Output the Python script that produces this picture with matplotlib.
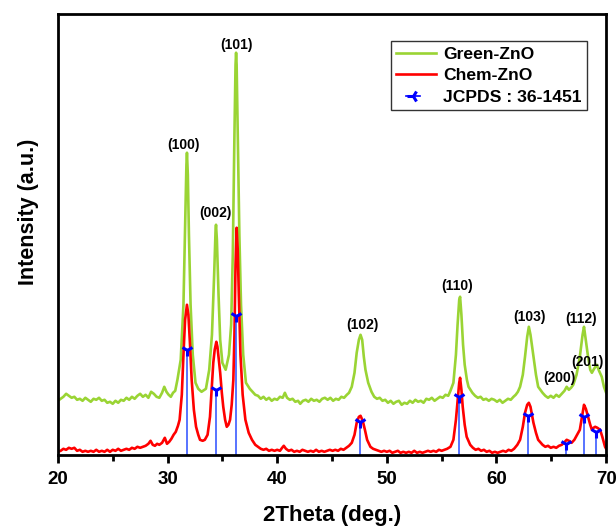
import matplotlib.pyplot as plt
from matplotlib.lines import Line2D
from matplotlib.legend_handler import HandlerLine2D

plt.rcParams["font.family"] = ["Liberation Sans", "DejaVu Sans"]
plt.rcParams["font.weight"] = "bold"

# ---------------------------------------------------------------------------
# Data (intensity in arbitrary units)
# ---------------------------------------------------------------------------
green_2theta = [
    20.0, 20.25, 20.5, 20.75, 21.0, 21.25, 21.5, 21.75, 22.0, 22.25, 22.5, 22.75,
    23.0, 23.25, 23.5, 23.75, 24.0, 24.25, 24.5, 24.75, 25.0, 25.25, 25.5, 25.75,
    26.0, 26.25, 26.5, 26.75, 27.0, 27.25, 27.5, 27.75, 28.0, 28.25, 28.5, 28.75,
    29.0, 29.25, 29.5, 29.7, 29.9, 30.1, 30.3, 30.5, 30.7, 30.9, 31.2, 31.45,
    31.6, 31.72, 31.77, 31.85, 31.95, 32.1, 32.3, 32.55, 32.8, 33.1, 33.5, 33.8,
    34.05, 34.25, 34.38, 34.42, 34.5, 34.65, 34.8, 35.0, 35.3, 35.6, 35.8, 35.95,
    36.1, 36.2, 36.25, 36.3, 36.4, 36.55, 36.7, 36.9, 37.15, 37.5,
    37.75, 38.0, 38.25, 38.5, 38.75, 39.0, 39.25, 39.5, 39.75, 40.0, 40.25, 40.5,
    40.7, 40.9, 41.15, 41.4, 41.65, 41.9, 42.1, 42.35, 42.6, 42.85, 43.1, 43.35,
    43.6, 43.85, 44.1, 44.35, 44.6, 44.85, 45.1, 45.35, 45.6, 45.85, 46.1, 46.35,
    46.55, 46.8, 47.05, 47.25, 47.45, 47.6, 47.75, 47.9, 48.05, 48.3,
    48.6, 48.85, 49.1, 49.35, 49.6, 49.85, 50.1, 50.35, 50.6, 50.85, 51.1, 51.35,
    51.6, 51.85, 52.1, 52.35, 52.6, 52.85, 53.1, 53.35, 53.6, 53.85, 54.1, 54.35,
    54.6, 54.85, 55.1, 55.35, 55.6, 55.8, 56.07, 56.3, 56.45, 56.6, 56.68, 56.8,
    56.95, 57.1, 57.3, 57.45,
    57.8, 58.05, 58.3, 58.55, 58.8, 59.05, 59.3, 59.55, 59.8, 60.05, 60.3, 60.55,
    60.8, 61.05, 61.3, 61.55, 61.75, 61.95, 62.15, 62.4, 62.6, 62.8, 62.95, 63.1,
    63.37, 63.6, 63.8,
    64.2, 64.45, 64.7, 64.95, 65.2, 65.45, 65.7, 65.95, 66.2, 66.4, 66.6, 66.8,
    67.0, 67.3, 67.6, 67.85, 67.98, 68.1, 68.35, 68.55, 68.7, 68.9, 69.15, 69.35,
    69.6, 69.8, 70.0,
]
green_int = [
    54, 56, 58, 61, 59, 57, 58, 55, 56, 54, 57, 55,
    53, 56, 55, 57, 54, 55, 52, 53, 51, 54, 52, 55,
    54, 57, 55, 58, 56, 59, 61, 58, 60, 57, 63, 61,
    58, 57, 62, 68, 63, 60, 58, 62, 64, 75, 95, 150,
    230, 290, 302, 280, 220, 150, 100, 72, 66, 63, 66, 85,
    120, 180, 225, 230, 215, 160, 115, 92, 85, 100, 130, 200,
    320, 390, 402, 390, 320, 220, 150, 100, 72, 66,
    63, 60, 59, 56, 58, 55, 57, 54, 56, 55, 58, 57,
    62, 57, 55, 56, 53, 54, 51, 54, 55, 53, 56, 54,
    55, 53, 56, 57, 55, 57, 54, 56, 55, 58, 57, 60,
    62, 68, 82, 102, 115, 120, 115, 98, 85, 72,
    63, 58, 56, 57, 54, 55, 52, 54, 51, 53, 54, 50,
    52, 51, 54, 52, 55, 53, 54, 52, 56, 55, 57, 54,
    56, 58, 57, 60, 59, 64, 72, 100, 130, 155, 158, 140,
    110, 90, 75, 68,
    62, 59, 57, 58, 55, 56, 54, 56, 55, 53, 55, 52,
    54, 56, 55, 58, 60, 63, 68, 80, 98, 118, 128, 120,
    98, 80, 68,
    62, 59, 57, 59, 57, 60, 58, 61, 64, 68, 65, 67,
    70, 80, 98, 120, 128, 118, 98, 85, 82, 86, 90, 84,
    78, 68, 62,
]

red_2theta = [
    20.0, 20.25, 20.5, 20.75, 21.0, 21.25, 21.5, 21.75, 22.0, 22.25, 22.5, 22.75,
    23.0, 23.25, 23.5, 23.75, 24.0, 24.25, 24.5, 24.75, 25.0, 25.25, 25.5, 25.75,
    26.0, 26.25, 26.5, 26.75, 27.0, 27.25, 27.5, 27.75, 28.0, 28.25, 28.45, 28.65,
    28.85, 29.05, 29.25, 29.5, 29.75, 29.95, 30.15, 30.35, 30.55, 30.75, 30.95,
    31.1, 31.3, 31.45, 31.6, 31.77, 31.9, 32.05, 32.2, 32.4, 32.6, 32.8, 32.96,
    33.2, 33.4, 33.65, 33.87, 34.05, 34.17, 34.3, 34.45, 34.55, 34.7, 34.8, 34.95,
    35.08, 35.25, 35.4, 35.55, 35.7, 35.85, 36.0, 36.1, 36.2, 36.3, 36.4, 36.5,
    36.65, 36.85, 37.1, 37.4, 37.7,
    38.0, 38.25, 38.5, 38.75, 39.0, 39.25, 39.5, 39.75, 40.0, 40.25, 40.45, 40.6,
    40.8, 41.05, 41.3, 41.55, 41.8, 42.05, 42.3, 42.55, 42.8, 43.05, 43.3, 43.55,
    43.8, 44.05, 44.3, 44.55, 44.8, 45.05, 45.3, 45.55, 45.8, 46.05, 46.3, 46.55,
    46.8, 47.05, 47.25, 47.45, 47.6, 47.8, 48.0, 48.2,
    48.5, 48.75, 49.0, 49.25, 49.5, 49.75, 50.0, 50.25, 50.5, 50.75, 51.0, 51.25,
    51.5, 51.75, 52.0, 52.25, 52.5, 52.75, 53.0, 53.25, 53.5, 53.75, 54.0, 54.25,
    54.5, 54.75, 55.0, 55.25, 55.5, 55.8, 56.07, 56.3, 56.44, 56.6, 56.68, 56.8,
    56.92, 57.1, 57.28,
    57.6, 57.85, 58.1, 58.35, 58.6, 58.85, 59.1, 59.35, 59.6, 59.85, 60.1, 60.35,
    60.6, 60.85, 61.1, 61.35, 61.6, 61.9, 62.15, 62.4, 62.6, 62.8, 62.95, 63.1,
    63.37, 63.6, 63.8,
    64.2, 64.45, 64.7, 64.95, 65.2, 65.45, 65.7, 65.95, 66.15, 66.4, 66.6, 66.85,
    67.1, 67.35, 67.6, 67.8, 67.98, 68.15, 68.35, 68.55, 68.7, 68.85, 69.0, 69.2,
    69.45, 69.65, 69.9, 70.0,
]
red_int = [
    3, 4, 6, 5, 7, 6, 7, 4, 5, 3, 4, 3,
    4, 3, 5, 3, 4, 3, 5, 3, 5, 4, 6, 4,
    5, 6, 5, 7, 6, 8, 7, 8, 9, 11, 14, 10,
    9, 11, 10, 12, 17, 11, 13, 16, 20, 23, 29,
    35, 60, 100, 135, 150, 140, 110, 75, 45, 28, 20, 15,
    14, 15, 20, 38, 70, 92, 105, 113, 108, 92, 82, 62,
    48, 35, 28, 30, 35, 50, 75, 120, 190, 227, 205, 160,
    100, 60, 35, 22, 15,
    10, 8, 6, 5, 6, 4, 5, 4, 5, 4, 7, 9,
    6, 4, 5, 3, 4, 3, 5, 4, 3, 4, 3, 5,
    3, 4, 3, 4, 5, 4, 5, 4, 6, 5, 7, 9,
    12, 20, 32, 38, 39, 34, 25, 15,
    8, 6, 5, 4, 3, 4, 3, 4, 2, 3, 4, 2,
    3, 2, 3, 2, 4, 2, 3, 2, 3, 4, 3, 4,
    3, 5, 4, 5, 6, 8, 15, 35, 52, 72, 77, 65,
    48, 30, 18,
    10, 7, 5, 6, 4, 5, 3, 4, 2, 3, 2, 3,
    4, 3, 5, 4, 6, 10, 15, 28, 42, 50, 52, 48,
    32, 22, 15,
    10, 8, 9, 7, 8, 7, 9, 10, 12, 15, 14, 12,
    15, 20, 25, 38, 50, 46, 38, 30, 25, 27, 28, 27,
    25, 18, 8, 6,
]

# JCPDS 36-1451 reference reflections
jcpds_2theta = [31.77, 34.42, 36.25, 47.54, 56.60, 62.86, 66.38, 67.96, 69.10]
jcpds_int = [105, 65, 139, 33, 58, 39, 11, 38, 23]

# Miller index labels and where they sit (2theta, intensity)
hkl_labels = ["(100)", "(002)", "(101)", "(102)", "(110)", "(103)", "(112)", "(200)", "(201)"]
hkl_x = [31.5, 34.4, 36.3, 47.75, 56.4, 62.97, 67.72, 65.7, 68.3]
hkl_y = [310, 242, 410, 130, 169, 138, 136, 77, 93]

GREEN = "#9AD434"
RED = "#FF0000"
BLUE = "#0000FF"


class ShortLineHandler(HandlerLine2D):
    """Legend entry: short stub of line ending in the marker."""
    def get_xdata(self, legend, xdescent, ydescent, width, height, fontsize):
        x0 = -xdescent
        return [x0 + 0.25 * width, x0 + 0.6 * width], [x0 + 0.6 * width]


# ---------------------------------------------------------------------------
# Plot
# ---------------------------------------------------------------------------
fig = plt.figure(figsize=(6.16, 5.27), dpi=100)
ax = fig.add_axes([0.094, 0.137, 0.89, 0.837])

ax.plot(green_2theta, green_int, color=GREEN, lw=1.9)
ax.plot(red_2theta, red_int, color=RED, lw=1.9)
ax.vlines(jcpds_2theta, 0, jcpds_int, color="#3B5BFF", lw=1.2)
ax.plot(jcpds_2theta, jcpds_int, ls="none", marker="1", ms=9, mew=2.2, color=BLUE)

for lab, x, y in zip(hkl_labels, hkl_x, hkl_y):
    ax.text(x, y, lab, ha="center", va="center", fontsize=10, fontweight="bold")

ax.set_xlim(20, 70)
ax.set_ylim(0, 441)
ax.set_xticks([20, 30, 40, 50, 60, 70])
ax.set_xticks([25, 35, 45, 55, 65], minor=True)
ax.set_yticks([])
ax.tick_params(axis="x", which="major", direction="out", length=6, width=2,
               labelsize=13.5, pad=6)
ax.tick_params(axis="x", which="minor", direction="out", length=4, width=2)
for lbl in ax.get_xticklabels():
    lbl.set_fontweight("bold")
for sp in ax.spines.values():
    sp.set_linewidth(2)

ax.set_xlabel("2Theta (deg.)", fontsize=16, fontweight="bold", labelpad=12)
ax.set_ylabel("Intensity (a.u.)", fontsize=15.5, fontweight="bold")
ax.yaxis.set_label_coords(-0.034, 0.551)

line_green = Line2D([], [], color=GREEN, lw=1.9)
line_red = Line2D([], [], color=RED, lw=1.9)
line_jcpds = Line2D([], [], color=BLUE, lw=1.2, marker="3", ms=9, mew=2.2)
leg = ax.legend([line_green, line_red, line_jcpds],
                ["Green-ZnO", "Chem-ZnO", "JCPDS : 36-1451"],
                handler_map={line_jcpds: ShortLineHandler()},
                loc="upper right", bbox_to_anchor=(0.965, 0.937),
                prop={"size": 12.6, "weight": "bold"}, fancybox=False,
                edgecolor="black", handlelength=2.3, labelspacing=0.35,
                borderpad=0.3, handletextpad=0.4, borderaxespad=0)
leg.get_frame().set_linewidth(1.0)

fig.savefig("out.png", dpi=100)
